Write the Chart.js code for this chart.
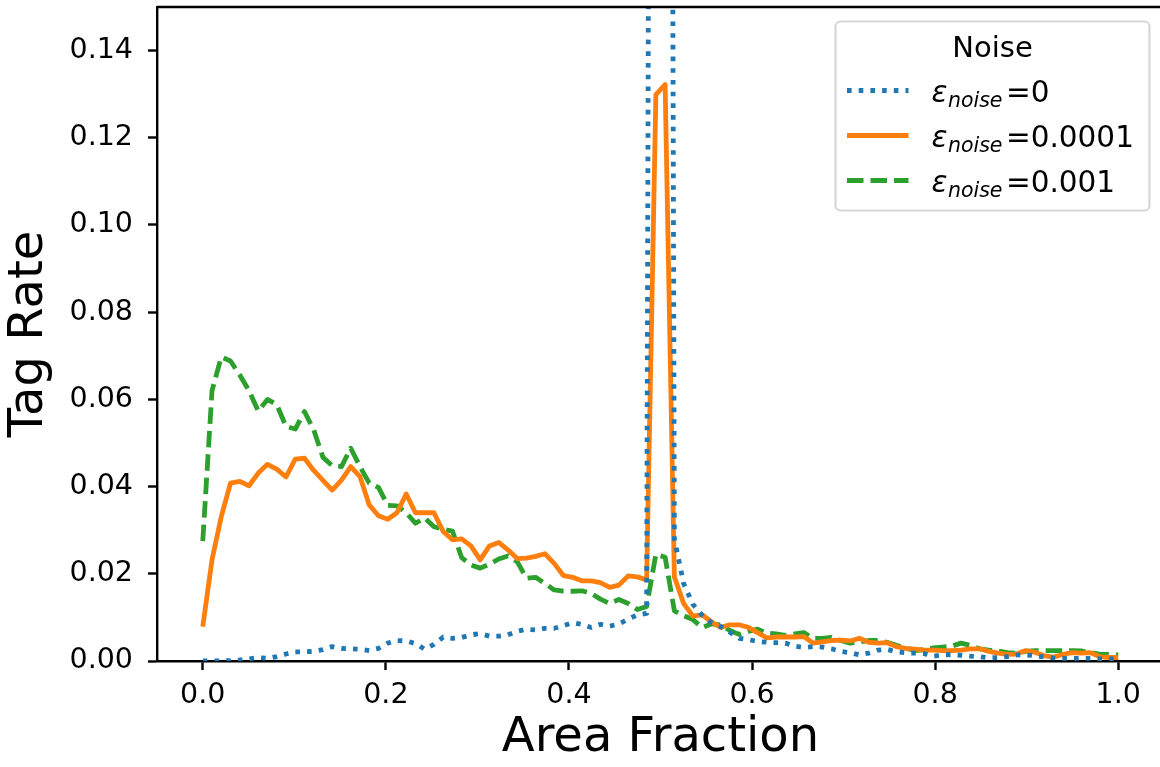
<!DOCTYPE html>
<html>
<head>
<meta charset="utf-8">
<title>Tag Rate vs Area Fraction</title>
<script src="https://cdn.jsdelivr.net/npm/chart.js@4.4.1/dist/chart.umd.min.js"></script>
<style>
  html, body { margin: 0; padding: 0; overflow: hidden; background: #fff; }
  canvas { display: block; }
</style>
</head>
<body>
<canvas id="tagChart" width="1166" height="767"></canvas>
<script>
'use strict';

// 100 bins, linspace(0, 1, 100)
const areaFraction = Array.from({ length: 100 }, (_, i) => i / 99);

const noiseLevels = ['0', '0.0001', '0.001'];
const legendTitle = 'Noise';

const rateNoise0 = [
  0, 0, 0, 0.0001, 0.0002, 0.0005, 0.0008, 0.0006, 0.0010, 0.0016,
  0.0021, 0.0021, 0.0022, 0.0026, 0.0033, 0.0029, 0.0028, 0.0027, 0.0024, 0.0029,
  0.0041, 0.0047, 0.0046, 0.0040, 0.0027, 0.0038, 0.0055, 0.0052, 0.0054, 0.0060,
  0.0063, 0.0057, 0.0057, 0.0060, 0.0068, 0.0073, 0.0071, 0.0075, 0.0075, 0.0081,
  0.0088, 0.0084, 0.0077, 0.0084, 0.0080, 0.0085, 0.0096, 0.0106, 0.0109, 0.76,
  0.78, 0.0280, 0.0178, 0.0130, 0.0105, 0.0088, 0.0079, 0.0066, 0.0052, 0.0049,
  0.0045, 0.0043, 0.0042, 0.0041, 0.0034, 0.0031, 0.0033, 0.0032, 0.0028, 0.0022,
  0.0019, 0.0014, 0.0018, 0.0025, 0.0027, 0.0021, 0.0019, 0.0018, 0.0017, 0.0011,
  0.0014, 0.0015, 0.0013, 0.0011, 0.0010, 0.0007, 0.0008, 0.0010, 0.0014, 0.0014,
  0.0012, 0.0009, 0.0007, 0.0006, 0.0006, 0.0006, 0.0006, 0.0005, 0.0005, 0.0005
];

const rateNoise1e4 = [
  0.0079, 0.0232, 0.0331, 0.0408, 0.0412, 0.0402, 0.0431, 0.0451, 0.0440, 0.0422,
  0.0463, 0.0465, 0.0437, 0.0414, 0.0392, 0.0415, 0.0446, 0.0423, 0.0358, 0.0333,
  0.0325, 0.0340, 0.0383, 0.0340, 0.0340, 0.0340, 0.0297, 0.0278, 0.0280, 0.0264,
  0.0232, 0.0264, 0.0272, 0.0255, 0.0235, 0.0236, 0.0240, 0.0246, 0.0224, 0.0196,
  0.0192, 0.0184, 0.0184, 0.0180, 0.0169, 0.0174, 0.0195, 0.0193, 0.0186, 0.1299,
  0.1322, 0.0193, 0.0132, 0.0103, 0.0106, 0.0090, 0.0077, 0.0083, 0.0083, 0.0077,
  0.0065, 0.0053, 0.0055, 0.0055, 0.0055, 0.0056, 0.0041, 0.0044, 0.0047, 0.0048,
  0.0046, 0.0052, 0.0043, 0.0041, 0.0042, 0.0033, 0.0029, 0.0027, 0.0025, 0.0025,
  0.0024, 0.0024, 0.0025, 0.0028, 0.0028, 0.0022, 0.0018, 0.0015, 0.0016, 0.0024,
  0.0020, 0.0012, 0.0009, 0.0015, 0.0019, 0.0018, 0.0019, 0.0010, 0.0008, 0.0008
];

const rateNoise1e3 = [
  0.0275, 0.0620, 0.0697, 0.0688, 0.0656, 0.0620, 0.0573, 0.0600, 0.0588, 0.0538,
  0.0532, 0.0572, 0.0530, 0.0467, 0.0448, 0.0446, 0.0488, 0.0446, 0.0408, 0.0398,
  0.0357, 0.0356, 0.0340, 0.0316, 0.0328, 0.0308, 0.0302, 0.0298, 0.0237, 0.0220,
  0.0213, 0.0222, 0.0234, 0.0241, 0.0228, 0.0190, 0.0192, 0.0178, 0.0163, 0.0160,
  0.0160, 0.0161, 0.0155, 0.0142, 0.0132, 0.0141, 0.0132, 0.0118, 0.0125, 0.0245,
  0.0238, 0.0115, 0.0104, 0.0095, 0.0077, 0.0085, 0.0083, 0.0070, 0.0061, 0.0068,
  0.0073, 0.0064, 0.0062, 0.0059, 0.0062, 0.0065, 0.0052, 0.0052, 0.0054, 0.0047,
  0.0041, 0.0044, 0.0047, 0.0047, 0.0043, 0.0036, 0.0029, 0.0024, 0.0026, 0.0030,
  0.0032, 0.0034, 0.0041, 0.0036, 0.0028, 0.0025, 0.0023, 0.0019, 0.0018, 0.0022,
  0.0024, 0.0024, 0.0024, 0.0024, 0.0024, 0.0023, 0.0019, 0.0016, 0.0015, 0.0014
];

const xTicks = [0, 0.2, 0.4, 0.6, 0.8, 1.0];
const yTicks = [0, 0.02, 0.04, 0.06, 0.08, 0.10, 0.12, 0.14];

const FONT = '"DejaVu Sans", "Liberation Sans", sans-serif';
const LW = 4.8;

function points(ys) {
  return ys.map((y, i) => ({ x: areaFraction[i], y: y }));
}

// legend box with title and eps_noise labels (subscript drawn smaller, lowered)
const noiseLegend = {
  id: 'noiseLegend',
  afterDatasetsDraw(chart) {
    const { ctx, chartArea } = chart;
    const w = 314, h = 189;
    const x0 = chartArea.right - 14.5 - w;
    const y0 = chartArea.top + 14.5;
    ctx.save();
    ctx.beginPath();
    ctx.roundRect(x0, y0, w, h, 5);
    ctx.fillStyle = 'rgba(255,255,255,0.8)';
    ctx.fill();
    ctx.lineWidth = 2.2;
    ctx.strokeStyle = 'rgba(204,204,204,0.8)';
    ctx.stroke();

    ctx.fillStyle = '#000';
    ctx.textBaseline = 'alphabetic';
    ctx.textAlign = 'center';
    ctx.font = '29px ' + FONT;
    ctx.fillText(legendTitle, x0 + w / 2, y0 + 35);

    ctx.textAlign = 'left';
    chart.data.datasets.forEach((ds, i) => {
      const base = y0 + 80 + i * 45;
      const hy = base - 11;
      ctx.beginPath();
      ctx.setLineDash(ds.borderDash || []);
      ctx.lineWidth = ds.borderWidth;
      ctx.strokeStyle = ds.borderColor;
      ctx.moveTo(x0 + 11.5, hy);
      ctx.lineTo(x0 + 73, hy);
      ctx.stroke();
      ctx.setLineDash([]);

      let tx = x0 + 96;
      ctx.font = 'italic 29.5px ' + FONT;
      ctx.fillText('\u03b5', tx, base);
      tx += ctx.measureText('\u03b5').width + 0.5;
      ctx.font = 'italic 20.5px ' + FONT;
      ctx.fillText('noise', tx, base + 5);
      tx += ctx.measureText('noise').width + 3.5;
      ctx.font = '29.5px ' + FONT;
      ctx.fillText('=' + noiseLevels[i], tx, base);
    });
    ctx.restore();
  },
  afterDraw(chart) {
    // top and right spines
    const { ctx, chartArea } = chart;
    ctx.save();
    ctx.strokeStyle = '#000';
    ctx.lineWidth = 2.4;
    ctx.beginPath();
    ctx.moveTo(chartArea.left, chartArea.top);
    ctx.lineTo(chartArea.right, chartArea.top);
    ctx.lineTo(chartArea.right, chartArea.bottom);
    ctx.stroke();
    ctx.restore();
  }
};

const ctx = document.getElementById('tagChart').getContext('2d');
const tagChart = new Chart(ctx, {
  type: 'line',
  data: {
    datasets: [
      {
        label: '\u03b5_noise=' + noiseLevels[0],
        data: points(rateNoise0),
        borderColor: '#1f77b4',
        borderWidth: LW,
        borderDash: [4.6, 7.1],
        clip: 0,
      },
      {
        label: '\u03b5_noise=' + noiseLevels[1],
        data: points(rateNoise1e4),
        borderColor: '#ff7f0e',
        borderWidth: LW,
        clip: 0,
      },
      {
        label: '\u03b5_noise=' + noiseLevels[2],
        data: points(rateNoise1e3),
        borderColor: '#2ca02c',
        borderWidth: LW,
        borderDash: [16.5, 7],
        clip: 0,
      },
    ],
  },
  options: {
    responsive: false,
    devicePixelRatio: 1,
    animation: false,
    parsing: false,
    layout: { padding: { top: 7, right: 2, left: 0, bottom: 0 } },
    elements: {
      point: { radius: 0 },
      line: { tension: 0, fill: false, borderJoinStyle: 'round' },
    },
    plugins: {
      legend: { display: false },
      tooltip: { enabled: false },
    },
    scales: {
      x: {
        type: 'linear',
        min: -0.05,
        max: 1.05,
        z: 1,
        afterBuildTicks: s => { s.ticks = xTicks.map(v => ({ value: v })); },
        afterFit: s => { s.height = 106; s.paddingLeft = 0; s.paddingRight = 0; },
        ticks: {
          callback: v => v.toFixed(1),
          color: '#000',
          font: { family: FONT, size: 28.5 },
          padding: 8,
          maxRotation: 0,
          autoSkip: false,
        },
        grid: {
          drawOnChartArea: false,
          drawTicks: true,
          tickLength: 9,
          tickWidth: 2.4,
          tickColor: '#000',
        },
        border: { display: true, color: '#000', width: 2.4 },
        title: {
          display: true,
          text: 'Area Fraction',
          color: '#000',
          font: { family: FONT, size: 48 },
          padding: { top: 0, bottom: 0 },
        },
      },
      y: {
        type: 'linear',
        min: 0,
        max: 0.15,
        z: 1,
        afterBuildTicks: s => { s.ticks = yTicks.map(v => ({ value: v })); },
        afterFit: s => { s.width = 157; s.paddingTop = 0; s.paddingBottom = 0; },
        ticks: {
          callback: v => v.toFixed(2),
          color: '#000',
          font: { family: FONT, size: 28.5 },
          padding: 15,
          autoSkip: false,
        },
        grid: {
          drawOnChartArea: false,
          drawTicks: true,
          tickLength: 9,
          tickWidth: 2.4,
          tickColor: '#000',
        },
        border: { display: true, color: '#000', width: 2.4 },
        title: {
          display: true,
          text: 'Tag Rate',
          color: '#000',
          font: { family: FONT, size: 48 },
          padding: { top: 1, bottom: 0 },
        },
      },
    },
  },
  plugins: [noiseLegend],
});
</script>
</body>
</html>
